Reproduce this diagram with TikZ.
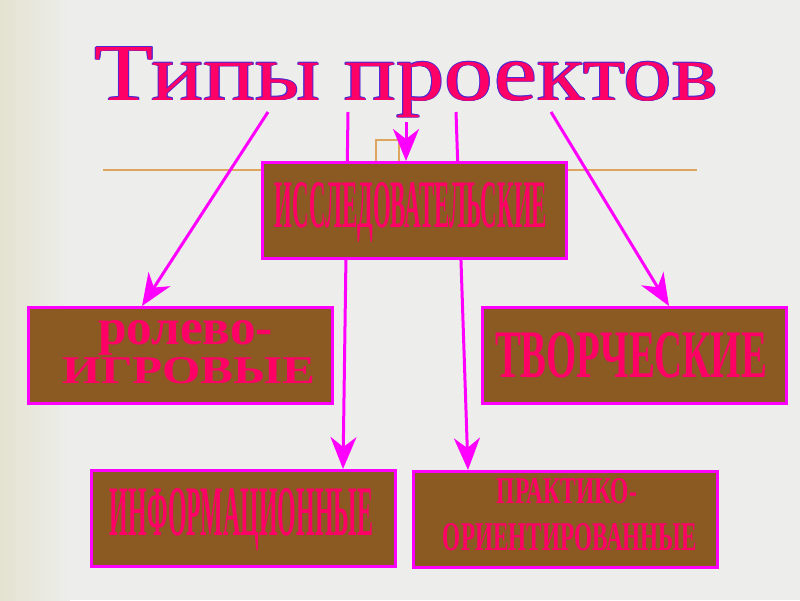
\documentclass[tikz,border=0pt]{standalone}
\usepackage{fontspec}
\setmainfont{Liberation Serif}
\usetikzlibrary{arrows.meta}
\pgfdeclarelayer{back}
\pgfdeclarelayer{bg}
\pgfsetlayers{back,bg,main}
\definecolor{bgc}{RGB}{237,237,235}
\definecolor{bgl}{RGB}{228,226,208}
\definecolor{brownf}{RGB}{139,90,35}
\definecolor{mag}{RGB}{255,0,255}
\definecolor{pinkt}{RGB}{255,0,102}
\definecolor{outl}{RGB}{80,40,210}
\definecolor{tanc}{RGB}{222,165,95}
\newcommand{\fitto}[3]{\resizebox{#1pt}{#2pt}{#3}}
\begin{document}
\begin{tikzpicture}[x=1pt,y=-1pt,
  catbox/.style={draw=mag, line width=3pt, fill=brownf, minimum width=304pt, minimum height=96pt, inner sep=0pt, anchor=north west},
  boxtext/.style={text=pinkt, inner sep=0pt, anchor=base, font=\bfseries},
  titletext/.style={inner sep=0pt, anchor=base},
  arr/.style={draw=mag, line width=3pt, -{Stealth[length=32pt,width=26pt,inset=10pt]}},
  deco/.style={draw=tanc, line width=1.5pt},
]
\useasboundingbox (0,0) rectangle (800,600);
\begin{pgfonlayer}{back}
  \fill[bgc] (0,0) rectangle (800,600);
  \shade[left color=bgl, right color=bgc] (0,0) rectangle (70,600);
\end{pgfonlayer}

% title with outline
\foreach \a [count=\i] in {0,60,...,300}
  \node[titletext, text=outl] (tout\i) at ([shift={(\a:1.0)}]406.5,100) {\fitto{623}{53}{Типы проектов}};
\node[titletext, text=pinkt] (title) at (406.5,100) {\fitto{623}{53}{Типы проектов}};

% boxes
\node[catbox] (b1) at (261,161) {};
\node[catbox] (b2) at (27,306) {};
\node[catbox] (b3) at (481,306) {};
\node[catbox] (b4) at (90,469) {};
\node[catbox] (b5) at (412,470) {};

% box texts
\node[boxtext] (t1) at (411,227) {\fitto{272}{45}{ИССЛЕДОВАТЕЛЬСКИЕ}};
\node[boxtext] (t2a) at (185.5,344) {\fitto{175}{24}{ролево-}};
\node[boxtext] (t2b) at (189,383) {\fitto{252}{26}{ИГРОВЫЕ}};
\node[boxtext] (t3) at (631,377) {\fitto{272}{45}{ТВОРЧЕСКИЕ}};
\node[boxtext] (t4) at (241.5,535) {\fitto{263}{47}{ИНФОРМАЦИОННЫЕ}};
\node[boxtext] (t5a) at (567,503) {\fitto{140}{25}{ПРАКТИКО-}};
\node[boxtext] (t5b) at (570,550) {\fitto{254}{27}{ОРИЕНТИРОВАННЫЕ}};

% arrow starts
\coordinate (s1) at (268,112);
\coordinate (s2) at (348,112);
\coordinate (s3) at (406,122);
\coordinate (s4) at (456,112);
\coordinate (s5) at (551,112);

\begin{pgfonlayer}{bg}
  \draw[deco] (103,170) -- (697,170);
  \draw[deco] (376,178) -- (376,140) -- (399,140) -- (399,178);
  \draw[arr] (s1) -- ([xshift=115pt]b2.north west);
  \draw[arr] (s2) -- ([xshift=253pt]b4.north west);
  \draw[arr] (s3) -- ([xshift=145pt]b1.north west);
  \draw[arr] (s4) -- ([xshift=56pt]b5.north west);
  \draw[arr] (s5) -- ([xshift=188pt]b3.north west);
\end{pgfonlayer}
\end{tikzpicture}
\end{document}
